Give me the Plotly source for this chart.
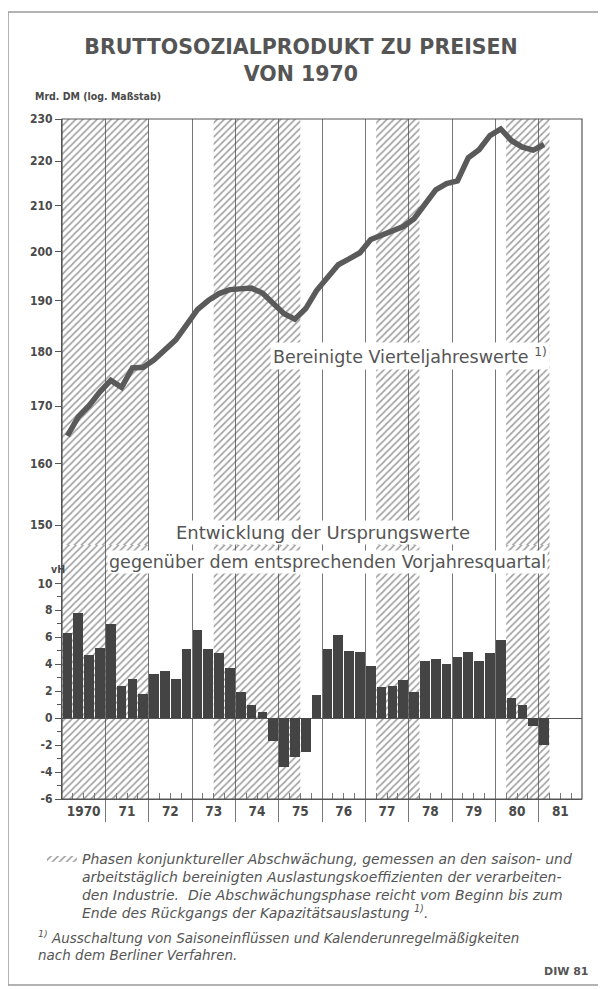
import math
import plotly.graph_objects as go

# ---------------- data ----------------
title_text = "BRUTTOSOZIALPRODUKT ZU PREISEN<br>VON 1970"
year_labels = ["1970", "71", "72", "73", "74", "75", "76", "77", "78", "79", "80", "81"]
first_year = 1970
last_year = 1982

# Bruttosozialprodukt, bereinigte Vierteljahreswerte, Mrd. DM (1970Q1 .. 1981Q1)
gnp = [164.8, 168.1, 170.1, 172.6,
       174.7, 173.4, 177.0, 177.1,
       178.5, 180.4, 182.3, 185.2,
       188.2, 190.0, 191.4, 192.2,
       192.4, 192.5, 191.5, 189.4,
       187.4, 186.3, 188.4, 192.0,
       194.8, 197.3, 198.5, 199.8,
       202.6, 203.5, 204.4, 205.4,
       207.1, 210.5, 213.5, 214.9,
       215.5, 220.8, 222.7, 226.0,
       227.6, 224.8, 223.3, 222.6,
       223.9]

# Veraenderung gegenueber Vorjahresquartal, vH (1970Q1 .. 1981Q1)
growth = [6.3, 7.8, 4.7, 5.2,
          7.0, 2.4, 2.9, 1.8,
          3.3, 3.5, 2.9, 5.1,
          6.5, 5.1, 4.8, 3.7,
          1.9, 1.0, 0.45, -1.7,
          -3.6, -2.9, -2.5, 1.7,
          5.1, 6.2, 5.0, 4.9,
          3.9, 2.3, 2.4, 2.8,
          1.9, 4.2, 4.4, 4.0,
          4.5, 4.9, 4.2, 4.8,
          5.8, 1.5, 1.0, -0.6,
          -2.0]

# Phasen konjunktureller Abschwaechung (start, end) in Jahren
phases = [(1970.0, 1972.0), (1973.5, 1975.5), (1977.25, 1978.25), (1980.25, 1981.25)]

top_ticks = [150, 160, 170, 180, 190, 200, 210, 220, 230]
bottom_ticks = [-6, -4, -2, 0, 2, 4, 6, 8, 10]

# ---------------- derived ----------------
qx = [first_year + (i + 0.5) / 4 for i in range(len(gnp))]
bx = [first_year + (i + 0.5) / 4 for i in range(len(growth))]

top_range = (146.9, 230.0)
bot_range = (-6.0, 12.84)


def phase_poly(lo, hi):
    xs, ys = [], []
    for a, b in phases:
        xs += [a, b, b, a, a, None]
        ys += [lo, lo, hi, hi, lo, None]
    return xs, ys


COND = "DejaVu Sans Condensed, Liberation Sans Narrow, Arial Narrow, sans-serif"
WIDE = "DejaVu Sans, Verdana, sans-serif"
INK = "#4a4a4a"
TXT = "#555555"
GRID = "#777777"
hatch = dict(shape="/", size=5, solidity=0.34, fgcolor="#424242", bgcolor="rgba(0,0,0,0)")

W, H = 598, 981          # page adds an 8 px body margin
L, T, R, B = 54, 111, 24, 190

fig = go.Figure()

hx, hy = phase_poly(*top_range)
fig.add_trace(go.Scatter(
    x=hx, y=hy, xaxis="x", yaxis="y", mode="lines", fill="toself",
    fillcolor="rgba(0,0,0,0)", line=dict(width=0), fillpattern=hatch,
    name="Phasen konjunktureller Abschwächung, gemessen an den saison- und<br>"
         "arbeitstäglich bereinigten Auslastungskoeffizienten der verarbeiten-<br>"
         "den Industrie.  Die Abschwächungsphase reicht vom Beginn bis zum<br>"
         "Ende des Rückgangs der Kapazitätsauslastung <sup>1)</sup>.",
    showlegend=True, hoverinfo="skip"))
hx2, hy2 = phase_poly(*bot_range)
fig.add_trace(go.Scatter(
    x=hx2, y=hy2, xaxis="x", yaxis="y2", mode="lines", fill="toself",
    fillcolor="rgba(0,0,0,0)", line=dict(width=0), fillpattern=hatch,
    showlegend=False, hoverinfo="skip"))

fig.add_trace(go.Bar(
    x=bx, y=growth, xaxis="x", yaxis="y2", width=0.25 * 0.9,
    marker=dict(color="#444444", line=dict(width=0)), showlegend=False))

fig.add_trace(go.Scatter(
    x=qx, y=gnp, xaxis="x", yaxis="y", mode="lines",
    line=dict(color="#5a5a5a", width=5.5), showlegend=False))

# x axis: labels at mid-year, quarter ticks inside, year separators outside
quarter_vals, quarter_text = [], []
for k, lab in enumerate(year_labels):
    for q in (1, 2, 3):
        quarter_vals.append(first_year + k + q / 4)
        quarter_text.append(lab if q == 2 else "")
year_bounds = list(range(first_year, last_year + 1))

fig.update_layout(
    width=W, height=H,
    margin=dict(l=L, r=R, t=T, b=B),
    paper_bgcolor="white", plot_bgcolor="white",
    bargap=0,
    title=dict(text=title_text, x=(301 - 8) / W, xanchor="center", xref="container",
               y=1 - 46 / H, yanchor="middle", yref="container",
               font=dict(family=WIDE, size=20.5, color="#555555", weight="bold")),
    xaxis=dict(range=[first_year, last_year], anchor="y2",
               tickmode="array", tickvals=quarter_vals, ticktext=quarter_text,
               ticks="inside", ticklen=6, tickcolor=GRID, tickwidth=1,
               showgrid=False, zeroline=False, showline=True, linecolor="#555", linewidth=1.2,
               tickfont=dict(family=COND, size=13.5, color=INK, weight="bold"),
               minor=dict(tickmode="array", tickvals=year_bounds, ticks="outside",
                          ticklen=22, tickcolor=GRID, tickwidth=1,
                          showgrid=True, gridcolor=GRID, gridwidth=1)),
    yaxis=dict(type="log", domain=[0.3735, 1.0],
               range=[math.log10(top_range[0]), math.log10(top_range[1])],
               tickmode="array", tickvals=top_ticks, ticktext=[str(t) for t in top_ticks],
               ticks="outside", ticklen=6, tickcolor="#555", showgrid=False, zeroline=False,
               showline=True, linecolor="#555", linewidth=1.2,
               tickfont=dict(family=COND, size=12, color=INK, weight="bold")),
    yaxis2=dict(domain=[0, 0.3735], range=list(bot_range),
                tickmode="array", tickvals=bottom_ticks, ticktext=[str(t) for t in bottom_ticks],
                ticks="outside", ticklen=6, tickcolor="#555", showgrid=False,
                zeroline=True, zerolinecolor="#555", zerolinewidth=1.3,
                showline=True, linecolor="#555", linewidth=1.2,
                tickfont=dict(family=COND, size=12, color=INK, weight="bold"),
                minor=dict(tickmode="array", tickvals=list(range(-6, 11)), ticks="outside",
                           ticklen=4, tickcolor="#555")),
    legend=dict(x=-0.0385, y=-0.064, xanchor="left", yanchor="top", valign="top",
                itemwidth=30, bgcolor="rgba(0,0,0,0)", tracegroupgap=0,
                font=dict(family=WIDE, size=14, color=TXT, style="italic")),
    shapes=[
        dict(type="rect", xref="paper", yref="paper", x0=0, x1=1, y0=0, y1=1,
             line=dict(color="#555", width=1.2), layer="above"),
        dict(type="rect", xref="paper", yref="paper",
             x0=(8 - 62) / 520, x1=(600 - 62) / 520, y0=(799 - 985) / 680, y1=(799 - 12) / 680,
             line=dict(color="#9a9a9a", width=1.5), layer="below"),
    ],
    annotations=[
        dict(text="Mrd. DM (log. Maßstab)", xref="paper", yref="paper",
             x=(33 - 62) / 520, y=(799 - 96) / 680, xanchor="left", yanchor="middle",
             showarrow=False, font=dict(family=COND, size=10.5, color=INK, weight="bold")),
        dict(text="vH", xref="paper", yref="paper",
             x=(58 - 62) / 520, y=(799 - 569) / 680, xanchor="center", yanchor="middle",
             showarrow=False, font=dict(family=COND, size=10.5, color=INK, weight="bold")),
        dict(text="Bereinigte Vierteljahreswerte <sup>1)</sup>", xref="paper", yref="paper",
             x=(270 - 62) / 520, y=(799 - 356) / 680, xanchor="left", yanchor="middle",
             showarrow=False, bgcolor="white", borderpad=2,
             font=dict(family=WIDE, size=17.5, color=TXT)),
        dict(text="Entwicklung der Ursprungswerte", xref="paper", yref="paper",
             x=(323 - 62) / 520, y=(799 - 532) / 680, xanchor="center", yanchor="middle",
             showarrow=False, bgcolor="white", borderpad=1,
             font=dict(family=WIDE, size=18, color=TXT)),
        dict(text="gegenüber dem entsprechenden Vorjahresquartal", xref="paper", yref="paper",
             x=(327 - 62) / 520, y=(799 - 562) / 680, xanchor="center", yanchor="middle",
             showarrow=False, bgcolor="white", borderpad=1,
             font=dict(family=WIDE, size=17.5, color=TXT)),
        dict(text="<sup>1)</sup> Ausschaltung von Saisoneinflüssen und Kalenderunregelmäßigkeiten<br>"
                  "nach dem Berliner Verfahren.", xref="paper", yref="paper",
             x=(36 - 62) / 520, y=(799 - 926) / 680, xanchor="left", yanchor="top",
             align="left", showarrow=False,
             font=dict(family=WIDE, size=13.5, color=TXT, style="italic")),
        dict(text="DIW 81", xref="paper", yref="paper",
             x=(591 - 62) / 520, y=(799 - 971) / 680, xanchor="right", yanchor="middle",
             showarrow=False, font=dict(family=WIDE, size=11, color=TXT, weight="bold")),
    ],
)

fig.write_html("out.html")
